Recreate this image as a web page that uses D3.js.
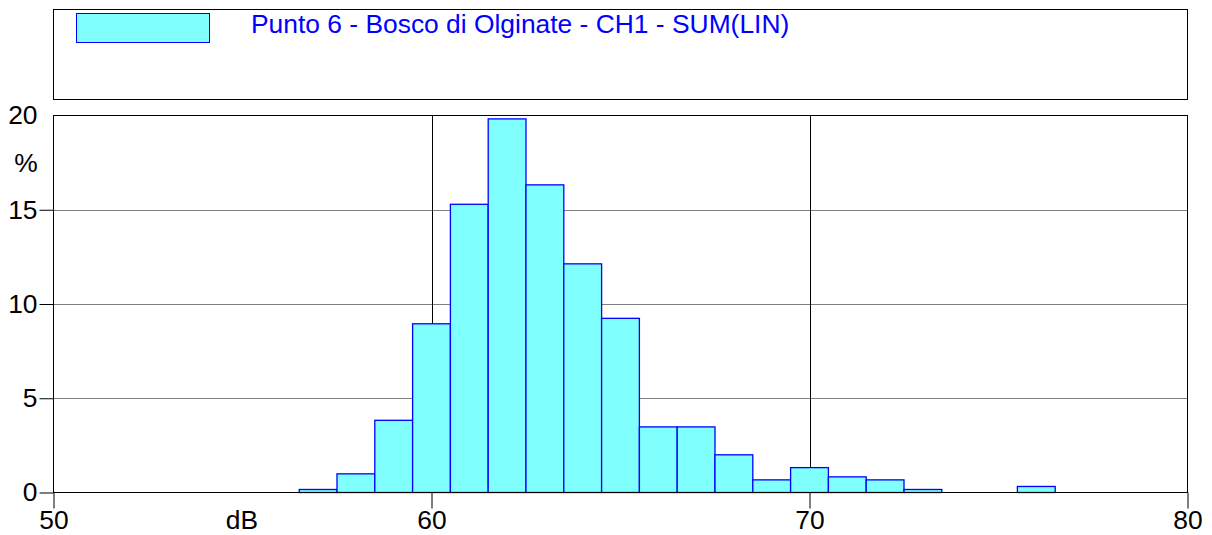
<!DOCTYPE html>
<html>
<head>
<meta charset="utf-8">
<script src="https://cdn.jsdelivr.net/npm/d3@7"></script>
<style>
  body { margin: 0; background: #fff; }
  text { font-family: "Liberation Sans", Arial, sans-serif; }
</style>
</head>
<body>
<script>
// histogram classes (dB, centre of 1 dB bin) and percentages
const levels = [57, 58, 59, 60, 61, 62, 63, 64, 65, 66, 67, 68, 69, 70, 71, 72, 73, 74, 75, 76, 77];
const percent = [0.16, 0.99, 3.83, 8.95, 15.29, 19.82, 16.32, 12.13, 9.24, 3.48, 3.48, 2.0, 0.67, 1.32, 0.83, 0.67, 0.16, 0, 0, 0.32, 0];
const xTicks = [50, 60, 70, 80];
const yTicks = [0, 5, 10, 15, 20];
const seriesName = "Punto 6 - Bosco di Olginate - CH1 - SUM(LIN)";

const width = 1212, height = 535;
const plotL = 53.5, plotR = 1187.5, plotT = 115.5, plotB = 492.5;
const fontSize = "26.4px";

const svg = d3.select("body").append("svg")
    .attr("width", width)
    .attr("height", height);

const x = d3.scaleLinear().domain([50, 80]).range([plotL, plotR]);
const y = d3.scaleLinear().domain([0, 20]).range([plotB, plotT]);

// legend box
svg.append("rect")
    .attr("x", 53.5).attr("y", 9.5)
    .attr("width", plotR - 53.5).attr("height", 90)
    .attr("fill", "none").attr("stroke", "#000");
svg.append("rect")
    .attr("x", 76.5).attr("y", 13.5)
    .attr("width", 133).attr("height", 29)
    .attr("fill", "#80ffff").attr("stroke", "#0000ff");
svg.append("text")
    .attr("x", 251).attr("y", 33)
    .attr("fill", "#0000ff")
    .style("font-size", fontSize)
    .text(seriesName);

// horizontal grid (grey)
svg.append("g")
    .selectAll("line")
    .data(yTicks.slice(1, -1))
    .enter().append("line")
    .attr("x1", plotL).attr("x2", plotR)
    .attr("y1", d => Math.round(y(d)) + 0.5).attr("y2", d => Math.round(y(d)) + 0.5)
    .attr("stroke", "#808080");

// vertical grid (black)
svg.append("g")
    .selectAll("line")
    .data(xTicks.slice(1, -1))
    .enter().append("line")
    .attr("x1", d => Math.round(x(d)) + 0.5).attr("x2", d => Math.round(x(d)) + 0.5)
    .attr("y1", plotT).attr("y2", plotB)
    .attr("stroke", "#000");

// bars
svg.append("g")
    .selectAll("rect")
    .data(levels)
    .enter().append("rect")
    .attr("x", d => x(d - 0.5))
    .attr("width", d => x(d + 0.5) - x(d - 0.5))
    .attr("y", (d, i) => y(percent[i]))
    .attr("height", (d, i) => y(0) - y(percent[i]))
    .attr("fill", "#80ffff")
    .attr("stroke", "#0000ff")
    .attr("stroke-width", 1.3);

// frame
svg.append("rect")
    .attr("x", plotL).attr("y", plotT)
    .attr("width", plotR - plotL).attr("height", plotB - plotT)
    .attr("fill", "none").attr("stroke", "#000");

// axes
const xAxis = d3.axisBottom(x).tickValues(xTicks).tickSize(16).tickPadding(1);
const gx = svg.append("g")
    .attr("transform", "translate(0," + plotB + ")")
    .call(xAxis);
gx.select(".domain").remove();
gx.selectAll("text").style("font-size", fontSize).attr("fill", "#000").attr("dy", "0.72em");

const yAxis = d3.axisLeft(y).tickValues(yTicks).tickSize(14).tickPadding(2);
const gy = svg.append("g")
    .attr("transform", "translate(" + plotL + ",0)")
    .call(yAxis);
gy.select(".domain").remove();
gy.selectAll("text").style("font-size", fontSize).attr("fill", "#000");
gy.selectAll(".tick").filter(d => d === 20).select("line").remove();

svg.append("text")
    .attr("x", 26).attr("y", 172)
    .attr("text-anchor", "middle")
    .style("font-size", fontSize)
    .text("%");
svg.append("text")
    .attr("x", 242).attr("y", 529)
    .attr("text-anchor", "middle")
    .style("font-size", fontSize)
    .text("dB");
</script>
</body>
</html>
